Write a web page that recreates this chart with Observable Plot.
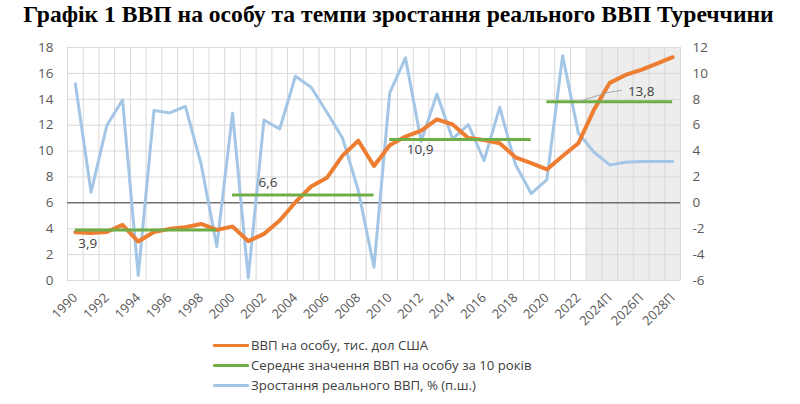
<!DOCTYPE html>
<html><head><meta charset="utf-8">
<script src="https://cdn.jsdelivr.net/npm/d3@7"></script>
<script src="https://cdn.jsdelivr.net/npm/@observablehq/plot@0.6"></script>
<style>
html,body{margin:0;padding:0;background:#fff}
body{width:800px;height:404px;overflow:hidden;position:relative;font-family:"Open Sans",sans-serif}
#title{position:absolute;left:0;top:1px;width:797px;text-align:center;font:bold 23.6px "Liberation Serif","Times New Roman",serif;color:#000;white-space:nowrap}
#chart{position:absolute;left:0;top:38px}
#legend{position:absolute;left:213px;top:335px;font-size:13.2px;color:#404040;font-family:"Open Sans",sans-serif}
.row{display:flex;align-items:center;height:20px}
.sw{width:36px;height:3px;margin-right:2px;border-radius:1px}
</style></head>
<body>
<div id="title">Графік 1 ВВП на особу та темпи зростання реального ВВП Туреччини</div>
<div id="chart"></div>
<div id="legend"></div>
<script>
// ---- data ----
const years = [1990,1991,1992,1993,1994,1995,1996,1997,1998,1999,
  2000,2001,2002,2003,2004,2005,2006,2007,2008,2009,
  2010,2011,2012,2013,2014,2015,2016,2017,2018,2019,
  2020,2021,2022,2023,2024,2025,2026,2027,2028];
// ВВП на особу, тис. дол США (left axis)
const gdpPerCapita = [3.73,3.66,3.75,4.3,3.01,3.75,3.99,4.12,4.37,3.91,
  4.17,3.04,3.6,4.63,6.05,7.26,7.93,9.65,10.8,8.85,
  10.45,11.12,11.58,12.45,12.05,11.0,10.86,10.6,9.52,9.06,
  8.58,9.62,10.6,13.2,15.27,15.88,16.27,16.75,17.25];
// Зростання реального ВВП, % (right axis)
const realGdpGrowth = [9.2,0.82,5.97,7.95,-5.6,7.13,6.95,7.45,3.0,-3.37,
  6.92,-5.8,6.4,5.7,9.78,8.93,7.0,5.0,0.95,-4.97,
  8.5,11.2,4.76,8.4,4.94,6.05,3.27,7.38,2.96,0.72,
  1.8,11.37,5.4,3.91,2.93,3.14,3.19,3.19,3.19];
// Середнє значення ВВП на особу за 10 років
const avgStart = [1990,2000,2010,2020];
const avgEnd = [1999,2009,2019,2028];
const avgValue = [3.9,6.6,10.9,13.8];
const leftTicks = [0,2,4,6,8,10,12,14,16,18];
const rightTicks = [-6,-4,-2,0,2,4,6,8,10,12];
const xTickLabels = ["1990","1992","1994","1996","1998","2000","2002","2004","2006","2008",
  "2010","2012","2014","2016","2018","2020","2022","2024П","2026П","2028П"];
const forecastFrom = 2023;
const seriesNames = ["ВВП на особу, тис. дол США","Середнє значення ВВП на особу за 10 років","Зростання реального ВВП, % (п.ш.)"];

// ---- derived tables ----
const rightOffset = leftTicks[0] - rightTicks[0]; // right-axis value + offset = left-axis value
const orange = years.map((y,i)=>({year:y, v:gdpPerCapita[i]}));
const blue = years.map((y,i)=>({year:y, v:realGdpGrowth[i] + rightOffset}));
const avgs = avgValue.map((v,i)=>({start:avgStart[i], end:avgEnd[i], v}));
const edges = years.map(y=>y-0.5).concat([years[years.length-1]+0.5]);
const forecast = years.filter(y=>y>=forecastFrom);
const tickYears = xTickLabels.map(s=>parseInt(s));
const tickMap = new Map(tickYears.map((y,i)=>[y,xTickLabels[i]]));
const fmt = v => String(v).replace(".", ",");

const C_OR = "#ED7D31", C_GR = "#70AD47", C_BL = "#A4C6E6", C_GRID = "#D9D9D9";
const labelOffsets = [[3,14],[26,-12.5],[17,10],[81,-10]];

const labelMarks = avgs.map((d,i)=>Plot.text([d],{x:"start", y:"v", text:d=>fmt(d.v),
  dx:labelOffsets[i][0], dy:labelOffsets[i][1], textAnchor:"start", fill:"#404040",
  fontSize:13.5, fontFamily:"Open Sans"}));

// leader line for the last average label
const leader = (index, scales) => {
  const d = avgs[avgs.length-1];
  const x0 = scales.x(d.start), y0 = scales.y(d.v);
  const path = d3.create("svg:path")
    .attr("d", `M${x0+33},${y0}L${x0+60},${y0-8.5}L${x0+75},${y0-11}`)
    .attr("fill","none").attr("stroke","#A6A6A6").attr("stroke-width",1);
  return path.node();
};

const chart = Plot.plot({
  width: 800, height: 300,
  marginLeft: 67, marginRight: 120, marginTop: 9, marginBottom: 58,
  style: {fontFamily: "Open Sans", fontSize: "13.5px", color: "#595959", background: "transparent"},
  x: {type: "linear", domain: [edges[0], edges[edges.length-1]], axis: null},
  y: {domain: [leftTicks[0], leftTicks[leftTicks.length-1]], axis: null},
  marks: [
    Plot.rect([forecast], {x1: f=>f[0]-0.5, x2: f=>f[f.length-1]+0.5, fill: "#EDEDED"}),
    Plot.ruleY(leftTicks, {stroke: C_GRID, strokeWidth: 1}),
    Plot.ruleX(edges, {stroke: C_GRID, strokeWidth: 1}),
    Plot.ruleY([rightOffset], {stroke: "#3a3a3a", strokeWidth: 1}),
    Plot.axisY(leftTicks, {anchor: "left", label: null, tickSize: 0, tickPadding: 14, fill: "#595959", fontSize: 13.5}),
    Plot.axisY(rightTicks.map(t=>t+rightOffset), {anchor: "right", label: null, tickSize: 0, tickPadding: 12,
      tickFormat: d => String(d - rightOffset), fill: "#595959", fontSize: 13.5}),
    Plot.axisX(tickYears, {anchor: "bottom", label: null, tickSize: 0, tickPadding: 15, tickRotate: -45,
      tickFormat: d => tickMap.get(d), fill: "#595959", fontSize: 13}),
    Plot.line(blue, {x: "year", y: "v", stroke: C_BL, strokeWidth: 3, strokeLinejoin: "round"}),
    Plot.line(orange, {x: "year", y: "v", stroke: C_OR, strokeWidth: 4, strokeLinejoin: "round", strokeLinecap: "round"}),
    Plot.ruleY(avgs, {y: "v", x1: "start", x2: "end", stroke: C_GR, strokeWidth: 3}),
    leader,
    ...labelMarks
  ]
});
document.getElementById("chart").appendChild(chart);

// legend
const colors = [C_OR, C_GR, C_BL];
const leg = document.getElementById("legend");
seriesNames.forEach((n,i)=>{
  const row = document.createElement("div"); row.className = "row";
  const sw = document.createElement("div"); sw.className = "sw"; sw.style.background = colors[i];
  const t = document.createElement("span"); t.textContent = n;
  row.appendChild(sw); row.appendChild(t); leg.appendChild(row);
});
</script>
</body></html>
